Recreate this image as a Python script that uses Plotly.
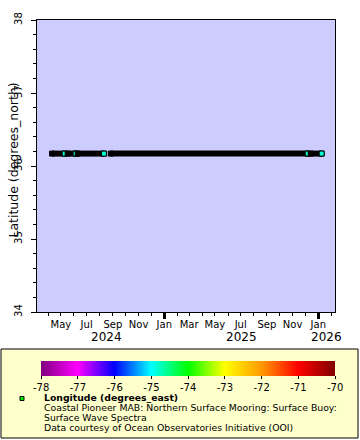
import plotly.graph_objects as go

# ---- data ----
RUN_START = ["2024-04-10", "2024-05-17", "2024-06-10", "2024-08-27", "2025-12-14"]
RUN_END = ["2024-05-10", "2024-06-05", "2024-08-11", "2025-12-07", "2026-01-09"]
LATITUDE = 36.17          # degrees_north
LONGITUDE = -74.82        # degrees_east (colour)

X_RANGE = ["2024-03-05 08:00", "2026-02-09 14:00"]
Y_RANGE = [34, 38]
MONTH_TICKS = ["2024-05-01", "2024-07-01", "2024-09-01", "2024-11-01", "2025-01-01",
               "2025-03-01", "2025-05-01", "2025-07-01", "2025-09-01", "2025-11-01", "2026-01-01"]
MONTH_LABELS = ["May", "Jul", "Sep", "Nov", "Jan", "Mar", "May", "Jul", "Sep", "Nov", "Jan"]
YEAR_TICKS = ["2025-01-01", "2026-01-01"]
YEAR_LABELS = ["2024", "2025", "2026"]
YEAR_LABEL_AT = ["2024-08-18", "2025-07-03", "2026-01-21"]
CBAR_TICKS = [-78, -77, -76, -75, -74, -73, -72, -71, -70]
CBAR_LABELS = ["-78", "-77", "-76", "-75", "-74", "-73", "-72", "-71", "-70"]

COLORSCALE = [
    [0.0, "#800080"], [0.125, "#ff00ff"], [0.25, "#0000ff"], [0.375, "#00ffff"],
    [0.5, "#00ff00"], [0.625, "#ffff00"], [0.75, "#ff9900"], [0.875, "#ff0000"],
    [1.0, "#800000"],
]

FONT = "DejaVu Sans"

fig = go.Figure()
for i, (s, e) in enumerate(zip(RUN_START, RUN_END)):
    fig.add_trace(go.Scatter(
        x=[s, e], y=[LATITUDE, LATITUDE], mode="lines+markers",
        line=dict(color="black", width=6),
        marker=dict(symbol="square", size=5, color="black", line=dict(color="black", width=1)),
        hoverinfo="skip", showlegend=False))
    fig.add_trace(go.Scatter(
        x=[e], y=[LATITUDE], mode="markers",
        marker=dict(symbol="square", size=5, color=[LONGITUDE], colorscale=COLORSCALE,
                    cmin=CBAR_TICKS[0], cmax=CBAR_TICKS[-1],
                    line=dict(color="black", width=1),
                    showscale=(i == 0),
                    colorbar=dict(orientation="h", lenmode="pixels", len=294, thickness=15,
                                  x=0.507, xanchor="center", y=-0.1678, yanchor="top",
                                  xpad=0, ypad=0, outlinewidth=0,
                                  tickvals=CBAR_TICKS, ticktext=CBAR_LABELS,
                                  ticks="outside", ticklen=3, tickcolor="black",
                                  tickfont=dict(family=FONT, size=10, color="black"))),
        hoverinfo="skip", showlegend=False))

# invisible trace to hold the Jan-tick overlay axis
fig.add_trace(go.Scatter(x=[X_RANGE[0]], y=[LATITUDE], xaxis="x2", mode="markers",
                         marker=dict(size=1, opacity=0), hoverinfo="skip", showlegend=False))

fig.update_layout(
    width=360, height=440,
    margin=dict(l=37, r=25, t=20, b=128),
    paper_bgcolor="white", plot_bgcolor="#ccccff",
    font=dict(family=FONT, size=10, color="black"),
    xaxis=dict(type="date", range=X_RANGE, showgrid=False, zeroline=False,
               showline=True, mirror=True, linecolor="black", linewidth=1,
               tickmode="array", tickvals=MONTH_TICKS, ticktext=MONTH_LABELS,
               ticks="outside", ticklen=3, tickwidth=1, tickcolor="black",
               tickfont=dict(family=FONT, size=10),
               minor=dict(dtick="M1", tick0="2024-01-01", ticks="outside", ticklen=3,
                          tickwidth=1, tickcolor="black", showgrid=False)),
    xaxis2=dict(type="date", range=X_RANGE, overlaying="x", anchor="y", side="bottom",
                showgrid=False, zeroline=False, showline=False, showticklabels=False,
                tickmode="array", tickvals=YEAR_TICKS, ticks="outside", ticklen=6,
                tickwidth=3, tickcolor="black"),
    yaxis=dict(range=Y_RANGE, showgrid=False, zeroline=False,
               showline=True, mirror=True, linecolor="black", linewidth=1,
               tickmode="linear", tick0=34, dtick=1, tickangle=-90,
               ticks="outside", ticklen=5, tickwidth=1, tickcolor="black",
               ticklabelstandoff=5,
               tickfont=dict(family=FONT, size=10),
               minor=dict(dtick=0.2, ticks="outside", ticklen=3, tickwidth=1,
                          tickcolor="black", showgrid=False)),
)

annotations = []
for lab, at in zip(YEAR_LABELS, YEAR_LABEL_AT):
    annotations.append(dict(x=at, y=-0.0856, xref="x", yref="paper", text=lab,
                            showarrow=False, xanchor="center", yanchor="middle",
                            font=dict(family=FONT, size=12)))
annotations.append(dict(x=-0.082, y=0.5205, xref="paper", yref="paper",
                        text="Latitude (degrees_north)", textangle=-90, showarrow=False,
                        xanchor="center", yanchor="middle", font=dict(family=FONT, size=12.5)))

legend_lines = [
    ("<b>Longitude (degrees_east)</b>", 397.0),
    ("Coastal Pioneer MAB: Northern Surface Mooring: Surface Buoy:", 407.8),
    ("Surface Wave Spectra", 417.5),
    ("Data courtesy of Ocean Observatories Initiative (OOI)", 427.2),
]
for txt, py in legend_lines:
    annotations.append(dict(x=(42 - 37) / 298, y=(312 - py) / 292, xref="paper", yref="paper",
                            text=txt, showarrow=False, xanchor="left", yanchor="middle",
                            font=dict(family=FONT, size=9.3)))
fig.update_layout(annotations=annotations)

def px_x(p):
    return (p - 37) / 298

def px_y(p):
    return (312 - p) / 292

fig.update_layout(shapes=[
    dict(type="rect", xref="paper", yref="paper", layer="below",
         x0=px_x(1), x1=px_x(358), y0=px_y(349), y1=px_y(438),
         fillcolor="#ffffcc", line=dict(color="black", width=1)),
    dict(type="rect", xref="paper", yref="paper", layer="above",
         x0=px_x(20), x1=px_x(24), y0=px_y(396.5), y1=px_y(400.5),
         fillcolor="#00ee00", line=dict(color="black", width=1)),
])

fig.write_html("out.html", config={"displayModeBar": False},
               post_script="document.body.style.margin='0px';document.body.style.overflow='hidden';")
